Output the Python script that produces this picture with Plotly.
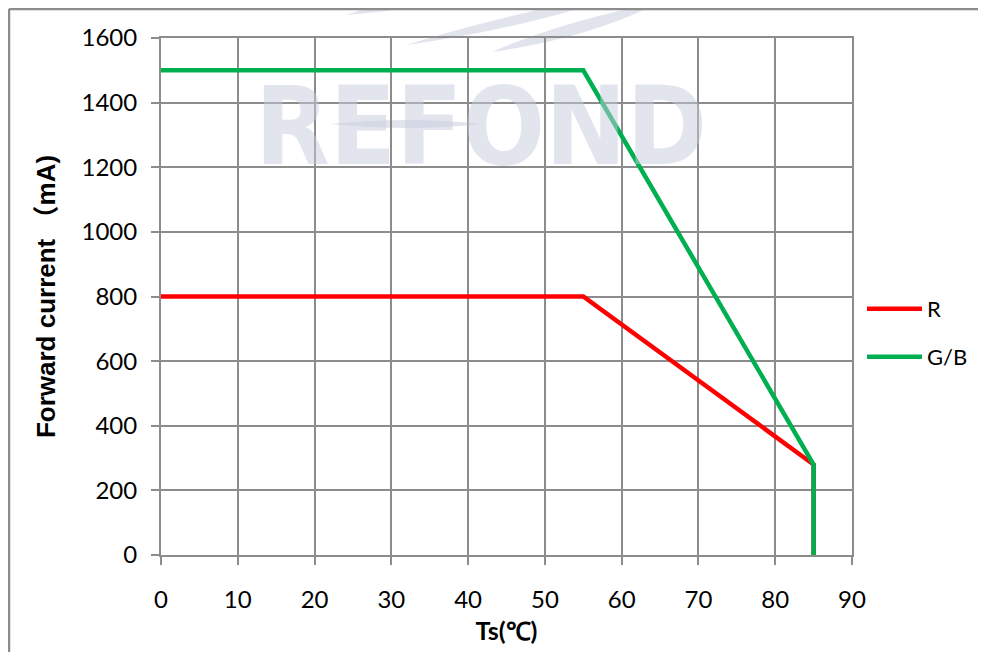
import plotly.graph_objects as go

# ---- data ----
ts_r = [0, 55, 85, 85]
current_r = [800, 800, 280, 0]
ts_gb = [0, 55, 85, 85]
current_gb = [1500, 1500, 280, 0]
x_ticks = [0, 10, 20, 30, 40, 50, 60, 70, 80, 90]
y_ticks = [0, 200, 400, 600, 800, 1000, 1200, 1400, 1600]

OFF = 8                      # page body margin
W, H = 986 - OFF, 652 - OFF
L, T = 161 - OFF, 38 - OFF   # plot area in figure coords
PR, PB = 852 - OFF, 555 - OFF
PW, PH = PR - L, PB - T
R, B = W - PR, H - PB


def px(x, y):
    """window pixel -> paper coords"""
    return (x - OFF - L) / PW, (PB - (y - OFF)) / PH


def lens(x1, y1, x2, y2, cx1, cy1, cx2, cy2):
    a = px(x1, y1); b = px(x2, y2); c = px(cx1, cy1); d = px(cx2, cy2)
    return (f"M {a[0]},{a[1]} Q {c[0]},{c[1]} {b[0]},{b[1]} "
            f"Q {d[0]},{d[1]} {a[0]},{a[1]} Z")


GRID = "#8c8c8c"
FONT = "Lato"
WM = "rgba(200,204,222,0.5)"

fig = go.Figure()
fig.add_trace(go.Scatter(x=ts_r, y=current_r, mode="lines", name="R",
                         line=dict(color="#ff0000", width=4.5), legend="legend"))
fig.add_trace(go.Scatter(x=ts_gb, y=current_gb, mode="lines", name="G/B",
                         line=dict(color="#00b050", width=4.5), legend="legend2"))

shapes = []
# watermark swooshes
for args in [
    (346, 15, 600, -25, 420, -12, 470, 4),
    (407, 45, 640, -12, 490, 18, 540, 26),
    (492, 52, 660, 2, 560, 22, 590, 38),
    (330, 124, 482, 124, 405, 116, 405, 132),
]:
    shapes.append(dict(type="path", path=lens(*args), xref="paper", yref="paper",
                       fillcolor="rgba(226,228,237,1)", line=dict(width=0), layer="below"))
# outer frame (left and top)
x0, y0 = px(9, 9)
x1, y1 = px(1000, 670)
shapes.append(dict(type="line", xref="paper", yref="paper", x0=x0, y0=y1, x1=x0, y1=y0,
                   line=dict(color=GRID, width=2.5)))
shapes.append(dict(type="line", xref="paper", yref="paper", x0=x0, y0=y0, x1=x1, y1=y0,
                   line=dict(color=GRID, width=2.5)))

wx, wy = px(481, 126)
annotations = [dict(text="<b>REFOND</b>", x=wx, y=wy, xref="paper", yref="paper",
                    showarrow=False, xanchor="center", yanchor="middle",
                    font=dict(family="DejaVu Sans Condensed", size=108, color=WM))]

axis_common = dict(showgrid=True, gridcolor=GRID, gridwidth=2, showline=True,
                   linecolor=GRID, linewidth=2, mirror=True, ticks="outside",
                   ticklen=8, tickcolor=GRID, tickwidth=2, zeroline=False,
                   tickfont=dict(family=FONT, size=24, color="#000"))

ytitle = ('<b>Forward current <span style="font-family:Noto Sans CJK SC">（</span>mA)</b>')

fig.update_layout(
    width=W, height=H,
    margin=dict(l=L, r=R, t=T, b=B, autoexpand=False),
    paper_bgcolor="white", plot_bgcolor="rgba(0,0,0,0)",
    font=dict(family=FONT, color="#000"),
    showlegend=True,
    xaxis=dict(range=[0, 90], tickvals=x_ticks, ticklabelstandoff=14,
               title=dict(text="<b>Ts(℃)</b>", font=dict(family=FONT, size=25), standoff=11),
               **axis_common),
    yaxis=dict(range=[0, 1600], tickvals=y_ticks, ticklabelstandoff=9,
               title=dict(text=ytitle,
                          font=dict(family="Liberation Sans", size=26),
                          standoff=18),
               **axis_common),
    legend=dict(x=px(862, 0)[0], y=px(0, 309)[1], xanchor="left", yanchor="middle",
                font=dict(family=FONT, size=22), bgcolor="rgba(0,0,0,0)", itemwidth=55),
    legend2=dict(x=px(862, 0)[0], y=px(0, 357)[1], xanchor="left", yanchor="middle",
                 font=dict(family=FONT, size=22), bgcolor="rgba(0,0,0,0)", itemwidth=55),
    shapes=shapes,
    annotations=annotations,
)

fig.write_html("out.html")
